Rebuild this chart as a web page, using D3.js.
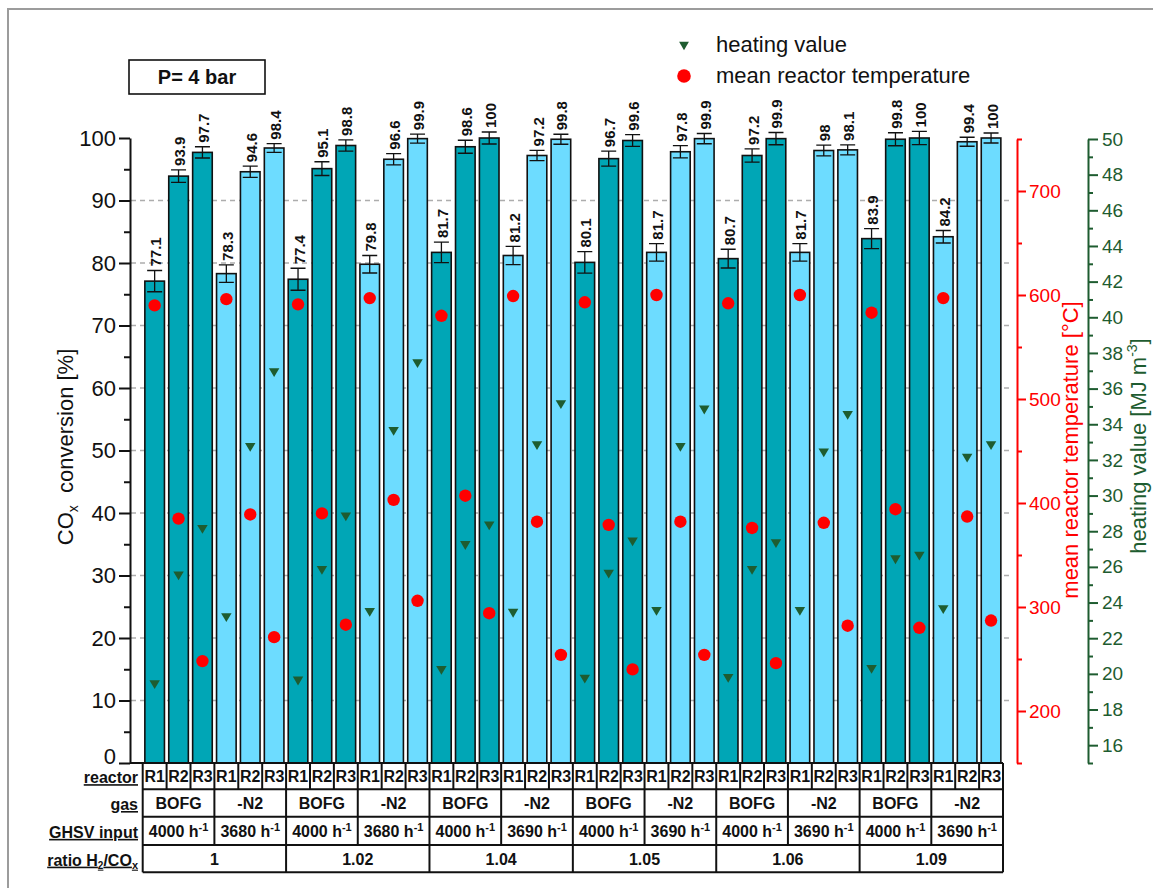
<!DOCTYPE html>
<html>
<head>
<meta charset="utf-8">
<script src="https://cdn.jsdelivr.net/npm/d3@7"></script>
<style>
  body { margin: 0; background: #fff; }
  svg { display: block; }
  text { font-family: "Liberation Sans", Arial, sans-serif; }
</style>
</head>
<body>
<script>
// ---- data ----------------------------------------------------------------
const ratioLabels = ["1", "1.02", "1.04", "1.05", "1.06", "1.09"];
const gasLabels = ["BOFG", "-N2"];
const reactors = ["R1", "R2", "R3"];
const ghsvInput = [4000, 3680, 4000, 3680, 4000, 3690, 4000, 3690, 4000, 3690, 4000, 3690];

// CO_x conversion [%] for every reactor, in group order (ratio -> gas -> reactor)
const conversion = [
  77.1, 93.9, 97.7,  78.3, 94.6, 98.4,
  77.4, 95.1, 98.8,  79.8, 96.6, 99.9,
  81.7, 98.6, 100,   81.2, 97.2, 99.8,
  80.1, 96.7, 99.6,  81.7, 97.8, 99.9,
  80.7, 97.2, 99.9,  81.7, 98,   98.1,
  83.9, 99.8, 100,   84.2, 99.4, 100
];
// error (half width) of the conversion [%]
const conversionErr = [
  1.7, 1.0, 0.9,  1.4, 0.9, 0.7,
  1.76, 1.1, 0.9, 1.4, 0.9, 0.72,
  1.65, 1.04, 0.96, 1.46, 0.82, 0.8,
  1.73, 1.2, 0.93, 1.4, 0.98, 0.82,
  1.5, 1.06, 0.98, 1.4, 0.85, 0.8,
  1.6, 1.04, 1.06, 1.0, 0.72, 0.8
];
// mean reactor temperature [°C]
const temperature = [
  590, 385, 248,  596, 389, 271,
  591, 390, 283,  597, 403, 306,
  580, 407, 294,  599, 382, 254,
  593, 379, 240,  600, 382, 254,
  592, 376, 246,  600, 381, 282,
  583, 394, 280,  597, 387, 287
];
// heating value [MJ m^-3]
const heatingValue = [
  19.4, 25.5, 28.1,  23.15, 32.7, 36.9,
  19.6, 25.8, 28.8,  23.45, 33.6, 37.4,
  20.2, 27.2, 28.3,  23.4, 32.8, 35.1,
  19.7, 25.6, 27.4,  23.5, 32.7, 34.8,
  19.75, 25.8, 27.3, 23.5, 32.4, 34.5,
  20.25, 26.4, 26.6, 23.6, 32.1, 32.8
];

const yTicksLeft = d3.range(0, 101, 10);
const yTicksTemp = d3.range(200, 701, 100);
const yTicksHeat = d3.range(16, 51, 2);

// ---- setup ---------------------------------------------------------------
const W = 1153, H = 888;
const barFill = ["#00a6b6", "#6ddcff"];
const red = "#ff0000";
const green = "#1e5c30";

const bars = conversion.map((v, i) => ({
  i,
  v,
  err: conversionErr[i],
  temp: temperature[i],
  heat: heatingValue[i],
  gas: Math.floor(i / 3) % 2
}));

const svg = d3.select("body").append("svg")
  .attr("width", W).attr("height", H);

// outer frame
svg.append("rect")
  .attr("x", 8).attr("y", 9).attr("width", 1170).attr("height", 900)
  .attr("fill", "none").attr("stroke", "#9c9c9c").attr("stroke-width", 2);

const x = d3.scaleBand(d3.range(conversion.length), [142.7, 1003])
  .paddingInner(0.18).paddingOuter(0.09);
const yL = d3.scaleLinear([0, 100], [763, 138]);
const yT = d3.scaleLinear([150, 750], [763, 139]);
const yH = d3.scaleLinear([15, 50], [763, 139]);
const bw = x.bandwidth();
const cx = i => x(i) + bw / 2;

// dashed horizontal grid
svg.append("g").selectAll("line")
  .data(d3.range(10, 100, 10))
  .join("line")
  .attr("x1", 131).attr("x2", 1012)
  .attr("y1", d => yL(d)).attr("y2", d => yL(d))
  .attr("stroke", "#adadad").attr("stroke-width", 1.5)
  .attr("stroke-dasharray", "5,4");

// bars
svg.append("g").selectAll("rect")
  .data(bars)
  .join("rect")
  .attr("x", d => x(d.i)).attr("y", d => yL(d.v))
  .attr("width", bw).attr("height", d => yL(0) - yL(d.v))
  .attr("fill", d => barFill[d.gas])
  .attr("stroke", "#111").attr("stroke-width", 1.6);

// error bars
const capW = 7.5;
svg.append("g").selectAll("path")
  .data(bars)
  .join("path")
  .attr("d", d => {
    const c = cx(d.i), t = yL(d.v + d.err), b = yL(d.v - d.err);
    return `M${c},${t}V${b}M${c - capW},${t}H${c + capW}M${c - capW},${b}H${c + capW}`;
  })
  .attr("fill", "none").attr("stroke", "#111").attr("stroke-width", 1.3);

// value labels
svg.append("g").selectAll("text")
  .data(bars)
  .join("text")
  .attr("transform", d => `translate(${cx(d.i) + 1},${yL(d.v + d.err) - 4}) rotate(-90)`)
  .attr("dominant-baseline", "central")
  .attr("font-size", 15).attr("font-weight", "bold").attr("fill", "#111")
  .text(d => String(d.v));

// temperature markers
svg.append("g").selectAll("circle")
  .data(bars)
  .join("circle")
  .attr("cx", d => cx(d.i)).attr("cy", d => yT(d.temp))
  .attr("r", 6.2).attr("fill", red);

// heating value markers (downward triangle)
const triDown = {
  draw(ctx, size) {
    const w = Math.sqrt(size) * 1.25, h = Math.sqrt(size) * 1.05;
    ctx.moveTo(-w / 2, -h / 2);
    ctx.lineTo(w / 2, -h / 2);
    ctx.lineTo(0, h / 2);
    ctx.closePath();
  }
};
const triSymbol = d3.symbol(triDown, 70);
svg.append("g").selectAll("path")
  .data(bars)
  .join("path")
  .attr("transform", d => `translate(${cx(d.i)},${yH(d.heat)})`)
  .attr("d", triSymbol)
  .attr("fill", green);

// ---- axes ----------------------------------------------------------------
function styleAxis(g, color, fontSize) {
  g.selectAll("path.domain").attr("stroke", color).attr("stroke-width", 2);
  g.selectAll(".tick line").attr("stroke", color).attr("stroke-width", 2);
  g.selectAll(".tick text").attr("fill", color).attr("font-size", fontSize)
    .attr("font-family", "'Liberation Sans', Arial, sans-serif");
}

// left: conversion
const axL = svg.append("g").attr("transform", "translate(130,0)")
  .call(d3.axisLeft(yL).tickValues(yTicksLeft).tickSize(11).tickSizeOuter(0).tickPadding(3));
styleAxis(axL, "#111", 22);
axL.selectAll(".tick text").filter(d => d === 0).attr("dy", "0.03em");
const axLm = svg.append("g").attr("transform", "translate(130,0)")
  .call(d3.axisLeft(yL).tickValues(d3.range(5, 100, 10)).tickSize(6).tickFormat(""));
axLm.select("path.domain").remove();
styleAxis(axLm, "#111", 22);

// bottom line under the bars
svg.append("line")
  .attr("x1", 130).attr("x2", 1003).attr("y1", yL(0)).attr("y2", yL(0))
  .attr("stroke", "#111").attr("stroke-width", 2);

// right 1: temperature
const axT = svg.append("g").attr("transform", "translate(1017,0)")
  .call(d3.axisRight(yT).tickValues(yTicksTemp).tickSize(9).tickSizeOuter(0).tickPadding(3));
styleAxis(axT, red, 19);
const axTm = svg.append("g").attr("transform", "translate(1017,0)")
  .call(d3.axisRight(yT).tickValues(d3.range(150, 751, 100)).tickSize(5).tickFormat(""));
axTm.select("path.domain").remove();
styleAxis(axTm, red, 19);

// right 2: heating value
const axH = svg.append("g").attr("transform", "translate(1088,0)")
  .call(d3.axisRight(yH).tickValues(yTicksHeat).tickSize(10).tickSizeOuter(0).tickPadding(4));
styleAxis(axH, green, 19);
const axHm = svg.append("g").attr("transform", "translate(1088,0)")
  .call(d3.axisRight(yH).tickValues(d3.range(15, 50, 2)).tickSize(5).tickFormat(""));
axHm.select("path.domain").remove();
styleAxis(axHm, green, 19);

// axis titles
const tL = svg.append("text")
  .attr("transform", "translate(73,447) rotate(-90)")
  .attr("text-anchor", "middle").attr("font-size", 22).attr("fill", "#111");
tL.append("tspan").text("CO");
tL.append("tspan").attr("font-size", 14).attr("dy", 5).text("x");
tL.append("tspan").attr("dy", -5).text("\u00a0 conversion [%]");

svg.append("text")
  .attr("transform", "translate(1078,450) rotate(-90)")
  .attr("text-anchor", "middle").attr("font-size", 22).attr("fill", red)
  .text("mean reactor temperature [°C]");

const tH = svg.append("text")
  .attr("transform", "translate(1146,446) rotate(-90)")
  .attr("text-anchor", "middle").attr("font-size", 22).attr("fill", green);
tH.append("tspan").text("heating value [MJ m");
tH.append("tspan").attr("font-size", 14).attr("dy", -9).text("-3");
tH.append("tspan").attr("dy", 9).text("]");

// ---- legend --------------------------------------------------------------
const legend = svg.append("g");
legend.append("path")
  .attr("transform", "translate(684,46)")
  .attr("d", d3.symbol(triDown, 62)())
  .attr("fill", green);
legend.append("text").attr("x", 716).attr("y", 52)
  .attr("font-size", 22).attr("fill", "#111").text("heating value");
legend.append("circle").attr("cx", 684).attr("cy", 76).attr("r", 6.8).attr("fill", red);
legend.append("text").attr("x", 716).attr("y", 83)
  .attr("font-size", 22).attr("fill", "#111").text("mean reactor temperature");

// pressure note
svg.append("rect")
  .attr("x", 129).attr("y", 60).attr("width", 136).attr("height", 34)
  .attr("fill", "#fff").attr("stroke", "#111").attr("stroke-width", 1.6);
svg.append("text")
  .attr("x", 197).attr("y", 84)
  .attr("text-anchor", "middle")
  .attr("font-family", "Lato, 'Open Sans', sans-serif")
  .attr("font-weight", "bold").attr("font-size", 20).attr("fill", "#111")
  .text("P= 4 bar");

// ---- condition table -----------------------------------------------------
const rowY = [763, 789.3, 816.7, 845, 872.3];
const tx0 = 142.7, tx1 = 1003;
const step = x.step();
const colX = k => tx0 + k * step;
const table = svg.append("g");
const ln = (x1, y1, x2, y2) => table.append("line")
  .attr("x1", x1).attr("y1", y1).attr("x2", x2).attr("y2", y2)
  .attr("stroke", "#111").attr("stroke-width", 2);

rowY.slice(1).forEach(y => ln(tx0, y, tx1, y));
ln(tx0, rowY[0], tx0, rowY[4]);
ln(tx1, rowY[0], tx1, rowY[4]);
for (let k = 1; k < conversion.length; k++) ln(colX(k), rowY[0], colX(k), rowY[1]);
for (let k = 3; k < conversion.length; k += 3) ln(colX(k), rowY[1], colX(k), rowY[3]);
for (let k = 6; k < conversion.length; k += 6) ln(colX(k), rowY[3], colX(k), rowY[4]);

const cellText = (xc, row, fs) => table.append("text")
  .attr("x", xc).attr("y", (rowY[row] + rowY[row + 1]) / 2 + 6)
  .attr("text-anchor", "middle").attr("font-size", fs || 16)
  .attr("font-weight", "bold").attr("fill", "#111");

// reactor row
bars.forEach(d => cellText(colX(d.i) + step / 2, 0).text(reactors[d.i % 3]));
// gas row and GHSV row
ghsvInput.forEach((g, j) => {
  const xc = colX(j * 3) + step * 1.5;
  cellText(xc, 1).text(gasLabels[j % 2]);
  const t = cellText(xc, 2);
  t.append("tspan").text(g + " h");
  t.append("tspan").attr("font-size", 11).attr("dy", -6).text("-1");
});
// ratio row
ratioLabels.forEach((r, j) => cellText(colX(j * 6) + step * 3, 3).text(r));

// row captions
const caption = (row) => table.append("text")
  .attr("x", 138).attr("y", (rowY[row] + rowY[row + 1]) / 2 + 7)
  .attr("text-anchor", "end").attr("font-size", 16).attr("font-weight", "bold")
  .attr("text-decoration", "underline").attr("fill", "#111");
caption(0).text("reactor");
caption(1).text("gas");
caption(2).text("GHSV input");
const rc = caption(3);
rc.append("tspan").text("ratio H");
rc.append("tspan").attr("font-size", 10).attr("dy", 3).text("2");
rc.append("tspan").attr("dy", -3).text("/CO");
rc.append("tspan").attr("font-size", 11).attr("dy", 3).text("x");
</script>
</body>
</html>
